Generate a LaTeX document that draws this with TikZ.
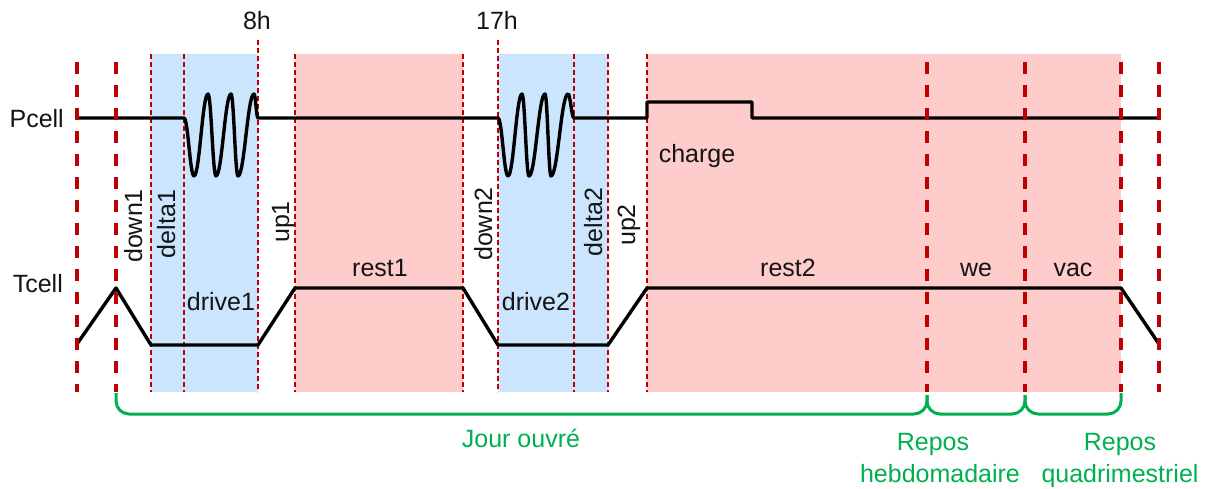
\documentclass[tikz,border=0pt]{standalone}
\usepackage{fontspec}
\setmainfont{Liberation Sans}
\definecolor{rd}{RGB}{192,0,0}
\definecolor{gr}{RGB}{0,176,80}
\definecolor{bl}{RGB}{204,229,255}
\definecolor{pk}{RGB}{255,204,204}
\definecolor{tx}{RGB}{20,20,20}
\begin{document}
\begin{tikzpicture}[x=1pt,y=-1pt,
  thickdash/.style={draw=rd, line width=3.5pt, dash pattern=on 12pt off 11pt},
  thindash/.style={draw=rd, line width=1.1pt, dash pattern=on 5pt off 3pt},
  sig/.style={draw=black, line width=3.4pt, line join=round},
  bracepath/.style={draw=gr, line width=3pt, rounded corners=13pt},
  lbl/.style={font=\fontsize{25}{30}\selectfont, text=tx, anchor=base, inner sep=0pt},
  vlbl/.style={lbl, rotate=90},
  glbl/.style={lbl, text=gr}]
\useasboundingbox (0,0) rectangle (1211,489);
% background regions
\fill[bl] (151,54) rectangle (258,392);
\fill[bl] (498,54) rectangle (608,392);
\fill[pk] (295,54) rectangle (463,392);
\fill[pk] (647,54) rectangle (1121,392);
% thin dashed boundaries
\foreach \x in {151,184,295,463,574,608,647}
  \draw[thindash] (\x,54) -- (\x,392);
\foreach \x in {258,498}
  \draw[thindash] (\x,40) -- (\x,392);
% Pcell signal
\draw[sig] (77,118) -- (184,118)
  .. controls (188,118) and (190,176) .. (194,176)
  .. controls (199.6,176) and (202.4,94) .. (208,94)
  .. controls (211.2,94) and (212.8,176) .. (216,176)
  .. controls (222,176) and (225,94) .. (231,94)
  .. controls (233.8,94) and (235.2,176) .. (238,176)
  .. controls (244.4,176) and (247.6,94) .. (254,94)
  .. controls (255.6,94) and (256.4,118) .. (258,118)
  -- (498,118)
  .. controls (502,118) and (504,176) .. (508,176)
  .. controls (513.6,176) and (516.4,94) .. (522,94)
  .. controls (524.8,94) and (526.2,176) .. (529,176)
  .. controls (535.4,176) and (538.6,94) .. (545,94)
  .. controls (547.4,94) and (548.6,176) .. (551,176)
  .. controls (557.8,176) and (561.2,94) .. (568,94)
  .. controls (570.4,94) and (571.6,118) .. (574,118)
  -- (647,118) -- (647,102) -- (752,102) -- (752,118) -- (1159,118);
% Tcell signal
\draw[sig] (77,344) -- (116,288) -- (151,345) -- (258,345) -- (295,288)
  -- (463,288) -- (498,345) -- (608,345) -- (647,288) -- (1121,288) -- (1159,344);
% thick dashed boundaries
\foreach \x in {77,116,927,1025,1121,1159}
  \draw[thickdash] (\x,62) -- (\x,392);
% braces
\draw[bracepath] (116,393) |- (521,414) -| (927,395);
\draw[bracepath] (927,395) |- (976,414) -| (1025,395);
\draw[bracepath] (1025,395) |- (1073,414) -| (1121,393);
% labels
\node[lbl, anchor=base east] (pcell) at (64,128) {Pcell};
\node[lbl, anchor=base east] (tcell) at (63,293) {Tcell};
\node[lbl] (h8) at (257,30) {8h};
\node[lbl] (h17) at (497,30) {17h};
\node[lbl] (charge) at (697,163) {charge};
\node[vlbl] (down1) at (142,226) {down1};
\node[vlbl] (delta1) at (175,224) {delta1};
\node[vlbl] (up1) at (289,222) {up1};
\node[vlbl] (down2) at (492,224) {down2};
\node[vlbl] (delta2) at (602,222) {delta2};
\node[vlbl] (up2) at (635,225) {up2};
\node[lbl] (drive1) at (221,310) {drive1};
\node[lbl] (drive2) at (536,310) {drive2};
\node[lbl] (rest1) at (380,277) {rest1};
\node[lbl] (rest2) at (788,277) {rest2};
\node[lbl] (we) at (976,277) {we};
\node[lbl] (vac) at (1073,277) {vac};
\node[glbl] (jour) at (521,447) {Jour ouvré};
\node[glbl] (repos1) at (933,450) {Repos};
\node[glbl] (hebdo) at (940,482) {hebdomadaire};
\node[glbl] (repos2) at (1120,450) {Repos};
\node[glbl] (quadri) at (1120,482) {quadrimestriel};
\end{tikzpicture}
\end{document}
